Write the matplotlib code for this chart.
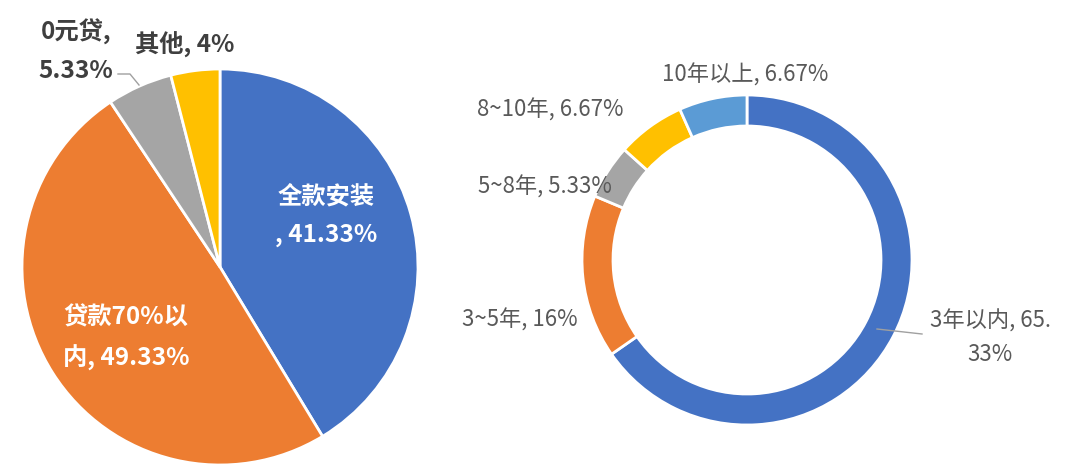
import matplotlib
matplotlib.use("Agg")
import matplotlib.pyplot as plt

plt.rcParams['font.family'] = ['Noto Sans CJK SC', 'DejaVu Sans']

# Data - left pie (payment method)
pay_names = ['全款安装', '贷款70%以内', '0元贷', '其他']
pay_values = [41.33, 49.33, 5.33, 4]
pay_labels = ['全款安装\n, 41.33%', '贷款70%以\n内, 49.33%', '0元贷,\n5.33%', '其他, 4%']

# Data - right donut (payback period)
year_names = ['3年以内', '3~5年', '5~8年', '8~10年', '10年以上']
year_values = [65.33, 16, 5.33, 6.67, 6.67]
year_labels = ['3年以内, 65.\n33%', '3~5年, 16%', '5~8年, 5.33%', '8~10年, 6.67%', '10年以上, 6.67%']

blue = '#4472C4'
orange = '#ED7D31'
gray = '#A5A5A5'
yellow = '#FFC000'
lblue = '#5B9BD5'

W, H = 1080, 477
fig = plt.figure(figsize=(W / 100, H / 100), dpi=100)
ax = fig.add_axes([0, 0, 1, 1])


def py(y):
    # pixel row (from top) -> data y
    return H - y


# Left pie
ax.pie(pay_values, colors=[blue, orange, gray, yellow], startangle=90,
       counterclock=False, center=(220, py(268)), radius=198,
       wedgeprops=dict(edgecolor='white', linewidth=2), frame=True)

left_pos = [(326, 216), (126, 338), (76, 51), (185, 45)]
left_col = ['white', 'white', '#3F3F3F', '#3F3F3F']
for lab, (x, y), c in zip(pay_labels, left_pos, left_col):
    ax.text(x, py(y), lab, color=c, ha='center', va='center', fontsize=17.5,
            fontweight='bold', linespacing=1.75)
ax.plot([118, 130, 139], [py(75), py(75), py(86)], color='#A0A0A0', lw=1)

# Right donut
ax.pie(year_values, colors=[blue, orange, gray, yellow, lblue], startangle=90,
       counterclock=False, center=(747, py(261)), radius=165,
       wedgeprops=dict(width=31, edgecolor='white', linewidth=2), frame=True)

right_pos = [(990, 338), (520, 320), (545, 187), (550, 110), (745, 75)]
for lab, (x, y) in zip(year_labels, right_pos):
    ax.text(x, py(y), lab, color='#595959', ha='center', va='center',
            fontsize=16, linespacing=1.6)
ax.plot([877, 922], [py(330), py(335)], color='#A0A0A0', lw=1)

ax.set_xlim(0, W)
ax.set_ylim(0, H)
ax.set_aspect('equal')
ax.axis('off')

fig.savefig('out.png', dpi=100, facecolor='white')
